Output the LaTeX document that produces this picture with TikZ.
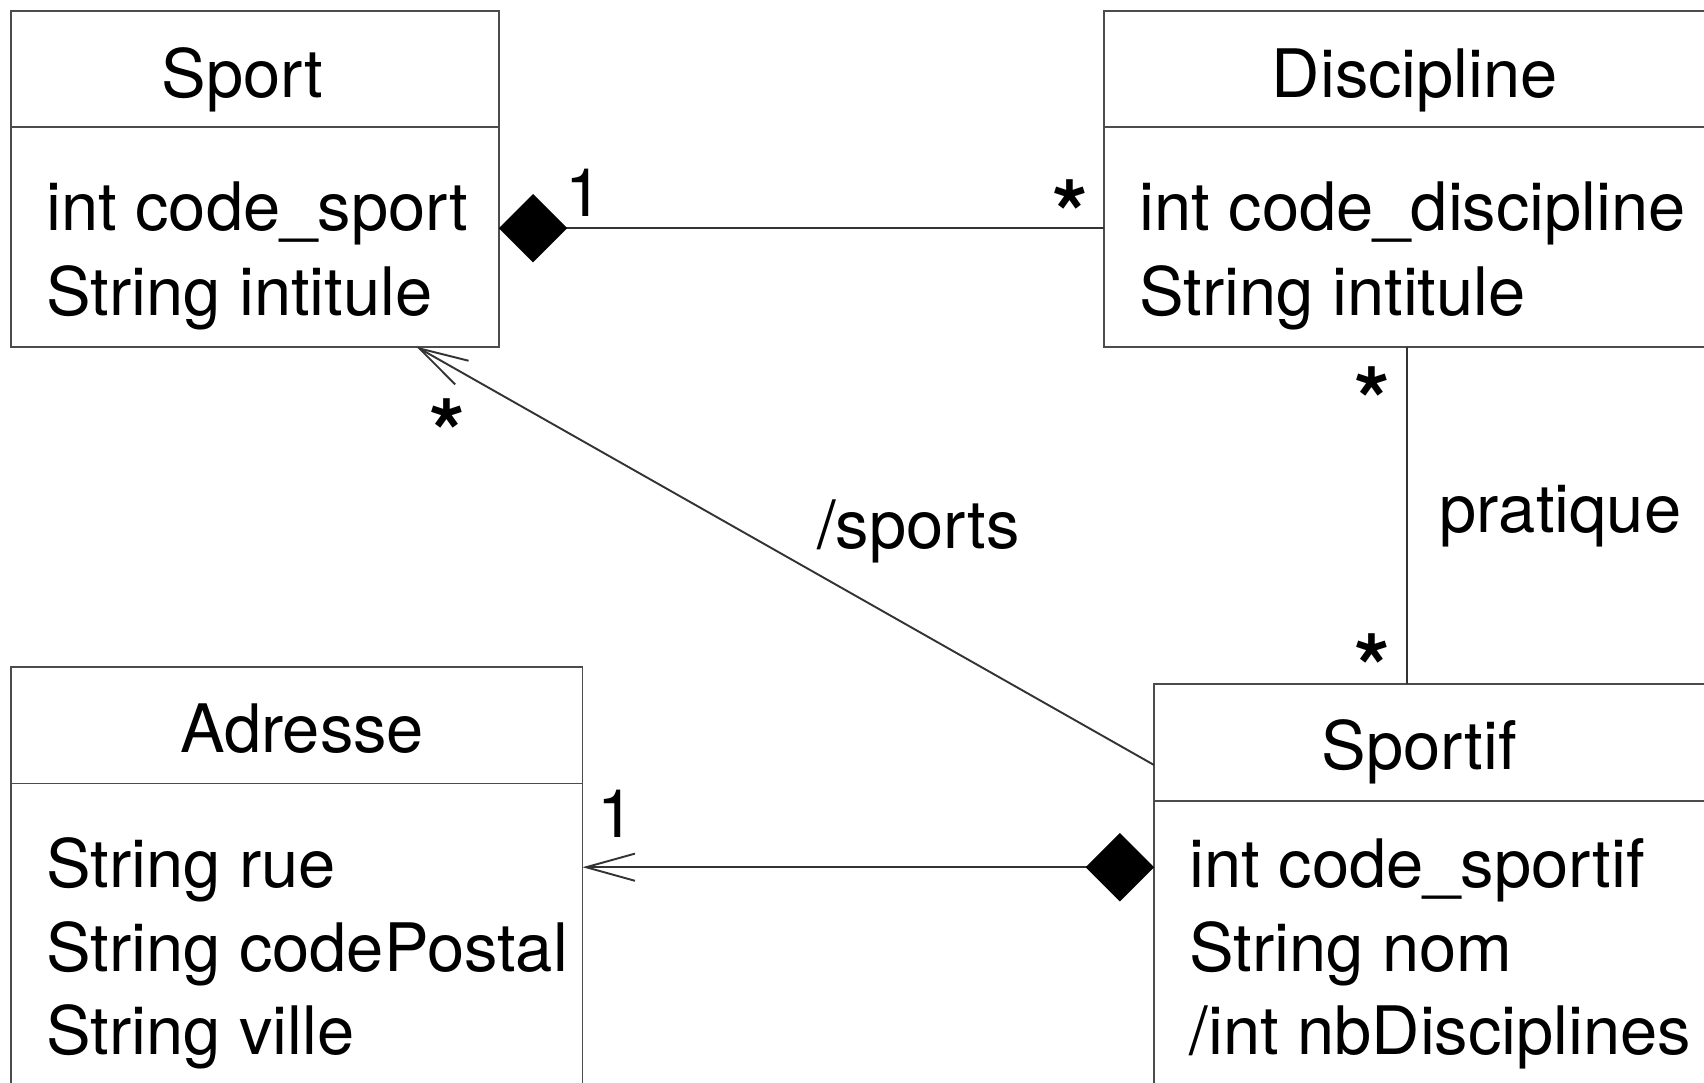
\documentclass[tikz,border=0pt]{standalone}
\usepackage{fontspec}
\setmainfont{TeX Gyre Heros}
\usetikzlibrary{arrows.meta}
\usetikzlibrary{positioning}
\tikzset{classbox/.style = {draw = black!70, line width = 0.5pt, rectangle, inner sep = 0, outer sep = 0, anchor = north west}}
\tikzset{txt/.style = {inner sep = 0, font = \fontsize{17.5}{21}\selectfont}}
\tikzset{attr/.style = {txt, anchor = base west}}
\tikzset{title/.style = {txt, anchor = base}}
\tikzset{mult/.style = {txt, anchor = base}}
\tikzset{many/.style = {txt, anchor = base, font = \fontsize{24}{28}\bfseries}}
\tikzset{assoc/.style = {draw = black!80, line width = 0.5pt}}
\tikzset{comp/.style = {assoc, -{Diamond[length = 6.3mm, width = 6.3mm, color = black]}}}
\tikzset{nav/.style = {assoc, -{Straight Barb[length = 4.5mm, width = 2.5mm]}}}
\tikzset{compnav/.style = {assoc, {Diamond[length = 6.3mm, width = 6.3mm, color = black]}-{Straight Barb[length = 4.5mm, width = 2.5mm]}}}

\begin{document}
\begin{tikzpicture}
    \useasboundingbox (0, 0) rectangle (15.68, 9.96);
    \clip (0, 0) rectangle (15.68, 9.96);

    \node [classbox, minimum width = 4.49cm, minimum height = 3.09cm] (sport) at (0.10, 9.86) {};
    \node [classbox, minimum width = 6.5cm, minimum height = 3.09cm] (discipline) at (10.16, 9.86) {};
    \node [classbox, minimum width = 5.26cm, minimum height = 4.5cm] (adresse) at (0.10, 3.82) {};
    \node [classbox, minimum width = 6.0cm, minimum height = 4.5cm] (sportif) at (10.62, 3.67) {};

    \draw [classbox] ([yshift = -1.07cm]sport.north west) -- ([yshift = -1.07cm]sport.north east);
    \draw [classbox] ([yshift = -1.07cm]discipline.north west) -- ([yshift = -1.07cm]discipline.north east);
    \draw [classbox] ([yshift = -1.07cm]adresse.north west) -- ([yshift = -1.07cm]adresse.north east);
    \draw [classbox] ([yshift = -1.08cm]sportif.north west) -- ([yshift = -1.08cm]sportif.north east);

    \node [title] (sportname) at ([xshift = 2.13cm, yshift = -0.80cm]sport.north west) {Sport};
    \node [attr] (sporta) at ([xshift = 0.32cm, yshift = -2.02cm]sport.north west) {int code\_sport};
    \node [attr] (sportb) at ([xshift = 0.32cm, yshift = -2.80cm]sport.north west) {String intitule};

    \node [title] (disciplinename) at ([xshift = 2.86cm, yshift = -0.80cm]discipline.north west) {Discipline};
    \node [attr] (disciplinea) at ([xshift = 0.32cm, yshift = -2.02cm]discipline.north west) {int code\_discipline};
    \node [attr] (disciplineb) at ([xshift = 0.32cm, yshift = -2.80cm]discipline.north west) {String intitule};

    \node [title] (adressename) at ([xshift = 2.68cm, yshift = -0.78cm]adresse.north west) {Adresse};
    \node [attr] (adressea) at ([xshift = 0.32cm, yshift = -2.03cm]adresse.north west) {String rue};
    \node [attr] (adresseb) at ([xshift = 0.32cm, yshift = -2.80cm]adresse.north west) {String codePostal};
    \node [attr] (adressec) at ([xshift = 0.32cm, yshift = -3.56cm]adresse.north west) {String ville};

    \node [title] (sportifname) at ([xshift = 2.44cm, yshift = -0.79cm]sportif.north west) {Sportif};
    \node [attr] (sportifa) at ([xshift = 0.32cm, yshift = -1.88cm]sportif.north west) {int code\_sportif};
    \node [attr] (sportifb) at ([xshift = 0.32cm, yshift = -2.65cm]sportif.north west) {String nom};
    \node [attr] (sportifc) at ([xshift = 0.32cm, yshift = -3.41cm]sportif.north west) {/int nbDisciplines};

    \draw [comp] ([yshift = -2cm]discipline.north west) -- ([yshift = -2cm]sport.north east);
    \draw [assoc] ([xshift = 2.79cm]discipline.south west) coordinate (pdisc) -- (pdisc |- sportif.north);
    \draw [nav] ([yshift = -0.75cm]sportif.north west) -- ([xshift = -0.76cm]sport.south east);
    \draw [compnav] ([yshift = -1.69cm]sportif.north west) coordinate (padr) -- (padr -| adresse.east);

    \node [mult] (m1) at (5.37, 7.97) {1};
    \node [many] (m2) at (9.85, 7.69) {*};
    \node [many] (m3) at (12.63, 5.975) {*};
    \node [many] (m4) at (12.63, 3.515) {*};
    \node [many] (m5) at (4.12, 5.675) {*};
    \node [mult] (m6) at (5.67, 2.25) {1};
    \node [mult] (pratique) at (14.36, 5.06) {pratique};
    \node [mult] (sports) at (8.45, 4.91) {/sports};
\end{tikzpicture}
\end{document}
